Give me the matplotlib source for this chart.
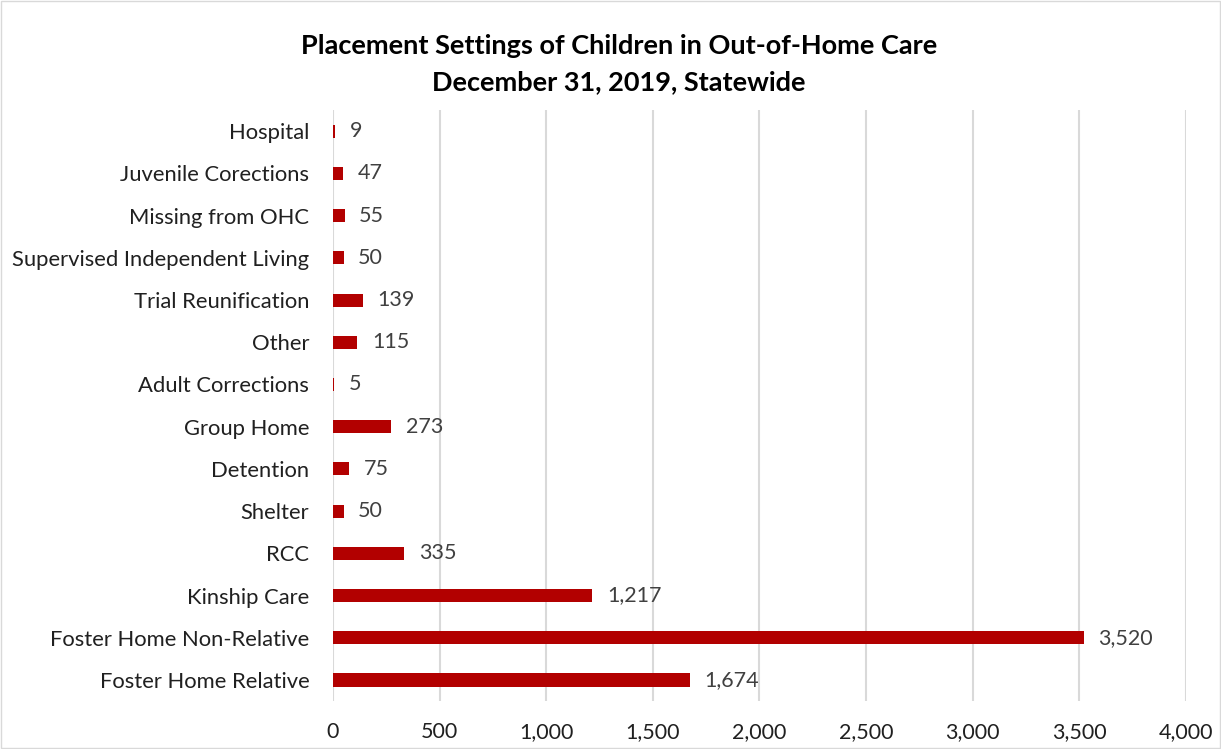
import matplotlib
matplotlib.use("Agg")
import matplotlib.pyplot as plt
from matplotlib.patches import Rectangle

categories = ["Foster Home Relative", "Foster Home Non-Relative", "Kinship Care", "RCC",
              "Shelter", "Detention", "Group Home", "Adult Corrections", "Other",
              "Trial Reunification", "Supervised Independent Living", "Missing from OHC",
              "Juvenile Corections", "Hospital"]
counts = [1674, 3520, 1217, 335, 50, 75, 273, 5, 115, 139, 50, 55, 47, 9]
xticks = [0, 500, 1000, 1500, 2000, 2500, 3000, 3500, 4000]

plt.rcParams["font.family"] = ["Lato", "DejaVu Sans"]
BAR = "#B20000"

fig = plt.figure(figsize=(12.21, 7.49), dpi=100)
ax = fig.add_axes([0.2727, 0.064, 0.6986, 0.789])
y = list(range(len(categories)))
ax.barh(y, counts, height=0.31, color=BAR, zorder=3)
for yi, v in zip(y, counts):
    ax.text(v + 68, yi, f"{v:,}", va="center", ha="left", fontsize=15.5, color="#404040")

ax.set_xlim(0, 4000)
ax.set_ylim(-0.5, len(categories) - 0.5)
ax.set_xticks(xticks)
ax.set_xticklabels([f"{t:,}" for t in xticks], fontsize=15.5, color="#202020")
ax.set_yticks(y)
ax.set_yticklabels(categories, fontsize=15.8, color="#202020")
ax.tick_params(length=0, pad=15, axis="x")
ax.tick_params(length=0, pad=17, axis="y")
ax.grid(axis="x", color="#D9D9D9", lw=1.5, zorder=0)
for s in ax.spines.values():
    s.set_visible(False)

fig.text(0.507, 0.938, "Placement Settings of Children in Out-of-Home Care", ha="center", va="center",
         fontsize=19.5, fontweight="bold")
fig.text(0.507, 0.890, "December 31, 2019, Statewide", ha="center", va="center",
         fontsize=19.5, fontweight="bold")
fig.add_artist(Rectangle((0.001, 0.001), 0.998, 0.998, transform=fig.transFigure,
                         fill=False, ec="#D9D9D9", lw=1))

fig.savefig("out.png", dpi=100)
